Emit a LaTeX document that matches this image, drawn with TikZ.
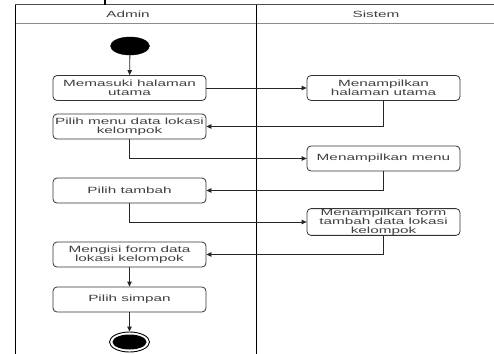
\documentclass[tikz,border=0pt]{standalone}
\usepackage{fontspec}
\setmainfont{Liberation Sans}[FakeStretch=1.7]
\usetikzlibrary{arrows.meta,shapes.geometric}
\begin{document}
\begin{tikzpicture}[x=1pt,y=-1pt,
  every node/.style={font=\fontsize{9}{9.2}\selectfont, text=black!75},
  act/.style={draw=black!80, line width=0.8pt, rounded corners=4pt,
    minimum width=153pt, minimum height=25pt, inner sep=0pt, align=center},
  arr/.style={draw=black!85, line width=0.8pt, -{Triangle[length=5pt,width=4.5pt]}},
  lane/.style={line width=1pt, black},
  lbl/.style={inner sep=0pt}]
  \clip (0,0) rectangle (494,353);
  % swimlane frame
  \draw[line width=1pt, black!70] (15,5) -- (500,5);
  \draw[line width=1pt, black!45] (15,24) -- (500,24);
  \draw[lane] (15,5) -- (15,360);
  \draw[lane] (256,5) -- (256,360);
  \draw[line width=2pt] (105,0) -- (105,5);
  \node[lbl] (hAdmin) at (128,14.5) {Admin};
  \node[lbl] (hSistem) at (376,14.5) {Sistem};
  % start node
  \node[draw, fill=black, ellipse, minimum width=39pt, minimum height=18pt, inner sep=0pt] (start) at (130,46) {};
  % activities
  \node[act] (n1) at (129.5,88) {Memasuki halaman\\utama};
  \node[act] (s1) at (383.5,88) {Menampilkan\\halaman utama};
  \node[act] (n2) at (129.5,126.5) {Pilih menu data lokasi\\kelompok};
  \node[act] (s2) at (383.5,158.5) {Menampilkan menu};
  \node[act] (n3) at (129.5,190.5) {Pilih tambah};
  \node[act] (s3) at (383.5,222) {Menampilkan form\\tambah data lokasi\\kelompok};
  \node[act] (n4) at (129.5,254.5) {Mengisi form data\\lokasi kelompok};
  \node[act] (n5) at (129.5,299.5) {Pilih simpan};
  % end node
  \node[draw, line width=0.9pt, ellipse, minimum width=40pt, minimum height=20pt, inner sep=0pt] (end) at (129.5,342) {};
  \node[fill=black, ellipse, minimum width=34pt, minimum height=15pt, inner sep=0pt] (endIn) at (129.5,342) {};
  % flows
  \draw[arr] (start) -- (n1);
  \draw[arr] (n1) -- (s1);
  \draw[arr] (s1.south) |- (n2.east);
  \draw[arr] (n2.south) |- (s2.west);
  \draw[arr] (s2.south) |- (n3.east);
  \draw[arr] (n3.south) |- (s3.west);
  \draw[arr] (s3.south) |- (n4.east);
  \draw[arr] (n4) -- (n5);
  \draw[arr] (n5) -- (end);
\end{tikzpicture}
\end{document}
